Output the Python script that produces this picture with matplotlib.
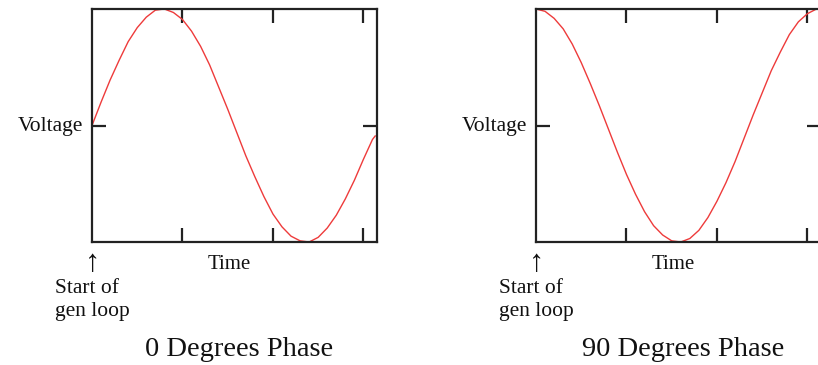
from matplotlib import pyplot as plt

# time samples (tick spacing = 1 unit) and voltage readings for both panels
time_0 = [0.0, 0.1, 0.2, 0.3, 0.4, 0.5, 0.6, 0.7, 0.8, 0.9, 1.0, 1.1, 1.2, 1.3, 1.4, 1.5,
          1.6, 1.7, 1.8, 1.9, 2.0, 2.1, 2.2, 2.3, 2.4, 2.5, 2.6, 2.7, 2.8, 2.9, 3.0, 3.1, 3.13]
volt_0 = [0.00, 0.20, 0.39, 0.56, 0.72, 0.84, 0.93, 0.99, 1.00, 0.97, 0.91, 0.81, 0.68, 0.52, 0.33, 0.14,
          -0.06, -0.26, -0.44, -0.61, -0.76, -0.87, -0.95, -0.99, -1.00, -0.96, -0.88, -0.77, -0.63, -0.47, -0.29, -0.12, -0.09]

time_90 = [0.0, 0.1, 0.2, 0.3, 0.4, 0.5, 0.6, 0.7, 0.8, 0.9, 1.0, 1.1, 1.2, 1.3, 1.4, 1.5,
           1.6, 1.7, 1.8, 1.9, 2.0, 2.1, 2.2, 2.3, 2.4, 2.5, 2.6, 2.7, 2.8, 2.9, 3.0, 3.1, 3.14]
volt_90 = [1.00, 0.98, 0.92, 0.83, 0.70, 0.54, 0.36, 0.17, -0.03, -0.23, -0.42, -0.59, -0.74, -0.86, -0.94, -0.99,
           -1.00, -0.97, -0.90, -0.79, -0.65, -0.49, -0.31, -0.11, 0.09, 0.28, 0.47, 0.63, 0.78, 0.89, 0.96, 1.00, 1.00]

x_ticks = [1, 2, 3]
titles = ["0 Degrees Phase", "90 Degrees Phase"]

W, H = 818, 365
SERIF = ['Liberation Serif', 'DejaVu Serif']
plt.rcParams['font.family'] = SERIF

fig = plt.figure(figsize=(W / 100, H / 100), dpi=100)


def px(x, y):
    # pixel coords (top-left origin) -> figure fraction
    return x / W, 1 - y / H


def phase_panel(left_px, t, v, title):
    x0, _ = px(left_px, 0)
    ax = fig.add_axes([x0, (H - 242) / H, 285 / W, 233 / H])
    ax.plot(t, v, color='#ee3b3b', lw=1.0, clip_on=True)
    ax.set_xlim(0, 3.15)
    ax.set_ylim(-1, 1)
    ax.set_xticks(x_ticks)
    ax.set_yticks([0])
    ax.tick_params(direction='in', length=10, width=1.6, color='#222222',
                   top=True, right=True, labelbottom=False, labelleft=False)
    for s in ax.spines.values():
        s.set_linewidth(1.6)
        s.set_color('#222222')

    # labels around the box
    fig.text(*px(left_px - 9, 131), "Voltage", ha='right', va='baseline', fontsize=15.5, color='#111111')
    fig.text(*px(left_px + 137, 269), "Time", ha='center', va='baseline', fontsize=15, color='#111111')
    fig.text(*px(left_px + 1, 271), "\u2191", ha='center', va='baseline', fontsize=22, color='#111111')
    fig.text(*px(left_px - 37, 293), "Start of", ha='left', va='baseline', fontsize=15.5, color='#111111')
    fig.text(*px(left_px - 37, 316), "gen loop", ha='left', va='baseline', fontsize=15.5, color='#111111')
    fig.text(*px(left_px + 147, 356), title, ha='center', va='baseline', fontsize=20.5, color='#111111')
    return ax


phase_panel(92, time_0, volt_0, titles[0])
phase_panel(536, time_90, volt_90, titles[1])

fig.savefig("out.png", dpi=100, facecolor='white')
